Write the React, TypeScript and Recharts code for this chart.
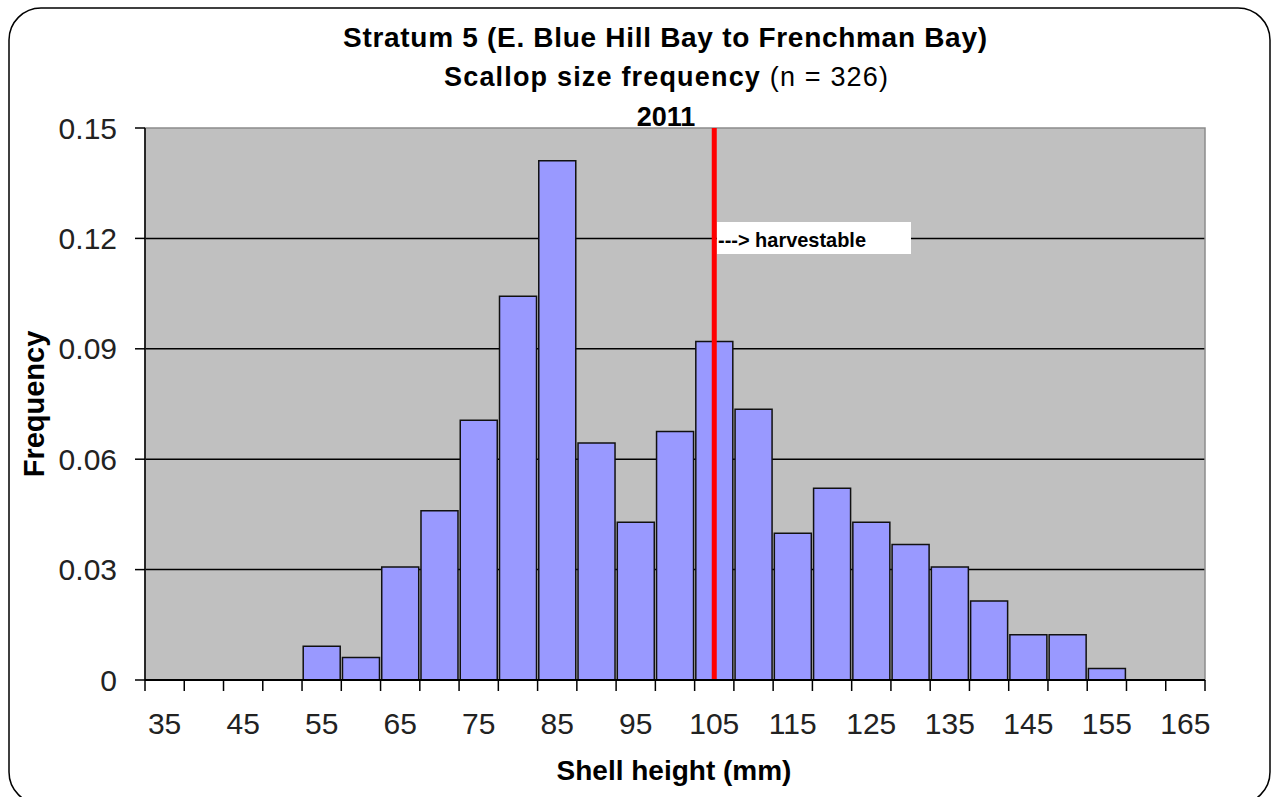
import React from "react";
import {
  BarChart,
  Bar,
  XAxis,
  YAxis,
  CartesianGrid,
  ReferenceLine,
  ReferenceArea,
} from "recharts";

// shell height classes (mm)
const sizes = [
  "35", "40", "45", "50", "55", "60", "65", "70", "75", "80", "85", "90", "95", "100",
  "105", "110", "115", "120", "125", "130", "135", "140", "145", "150", "155", "160", "165",
];

// relative frequency, n = 326
const frequency = [
  0, 0, 0, 0, 0.0092, 0.0061, 0.0307, 0.046, 0.0706, 0.1043, 0.1411, 0.0644, 0.0429, 0.0675,
  0.092, 0.0736, 0.0399, 0.0521, 0.0429, 0.0368, 0.0307, 0.0215, 0.0123, 0.0123, 0.0031, 0, 0,
];

const yTicks = [0, 0.03, 0.06, 0.09, 0.12, 0.15];
const gridValues = [0.03, 0.06, 0.09, 0.12];
const legalSize = "105";

const data = sizes.map((s, i) => ({ size: s, freq: frequency[i] }));

const W = 1275;
const H = 797;
const FONT = "'Liberation Sans', Arial, sans-serif";

// category axis: labels every other class, tick marks on the class edges
const SizeTick = (props: any) => {
  const { x, y, index, payload } = props;
  const half = payload && payload.offset ? payload.offset : 19.63;
  return (
    <g>
      <line x1={x - half} x2={x - half} y1={y} y2={y + 11} stroke="#000" strokeWidth={1.5} />
      {index === sizes.length - 1 && (
        <line x1={x + half} x2={x + half} y1={y} y2={y + 11} stroke="#000" strokeWidth={1.5} />
      )}
      {index % 2 === 0 && (
        <text x={x} y={y + 54} textAnchor="middle" fontSize={30} fill="#222" fontFamily={FONT}>
          {payload.value}
        </text>
      )}
    </g>
  );
};

export default function App() {
  return (
    <div
      style={{ position: "absolute", left: 0, top: 0, width: W, height: H, fontFamily: FONT, background: "#fff" }}
    >
      <BarChart
        width={W}
        height={H}
        data={data}
        barCategoryGap="3%"
        margin={{ top: 128, right: 70, bottom: 0, left: 0 }}
      >
        <CartesianGrid
          vertical={false}
          horizontalValues={gridValues}
          fill="#C0C0C0"
          fillOpacity={1}
          stroke="#000"
          strokeWidth={1.5}
        />
        <ReferenceArea y1={0} y2={0.15} fill="none" fillOpacity={0} stroke="#8c8c8c" strokeWidth={1.5} />
        <XAxis
          dataKey="size"
          interval={0}
          height={117}
          tickSize={0}
          tickMargin={0}
          tickLine={false}
          axisLine={{ stroke: "#000", strokeWidth: 2 }}
          tick={<SizeTick />}
        />
        <YAxis
          width={145}
          domain={[0, 0.15]}
          ticks={yTicks}
          interval={0}
          tickSize={10}
          tickMargin={18}
          tickFormatter={(v: number) => (v === 0 ? "0" : v.toFixed(2))}
          tick={{ fontSize: 30, fill: "#222", fontFamily: FONT }}
          axisLine={{ stroke: "#000", strokeWidth: 1.5 }}
          tickLine={{ stroke: "#000", strokeWidth: 1.5 }}
        />
        <Bar dataKey="freq" fill="#9999FF" stroke="#111" strokeWidth={1.5} isAnimationActive={false} />
        <ReferenceLine x={legalSize} stroke="#FF0000" strokeWidth={5} />
      </BarChart>

      <svg
        width={W}
        height={H}
        style={{ position: "absolute", left: 0, top: 0, pointerEvents: "none" }}
        fontFamily={FONT}
      >
        <rect x={9} y={8} width={1261} height={796} rx={32} ry={32} fill="none" stroke="#000" strokeWidth={1.5} />
        <text x={665} y={47} textAnchor="middle" fontSize={28} fontWeight="bold" textLength={644} lengthAdjust="spacing">
          Stratum 5 (E. Blue Hill Bay to Frenchman Bay)
        </text>
        <text x={666} y={86} textAnchor="middle" fontSize={27} textLength={444} lengthAdjust="spacing">
          <tspan fontWeight="bold">Scallop size frequency</tspan>
          <tspan> (n = 326)</tspan>
        </text>
        <text x={666} y={126} textAnchor="middle" fontSize={27} fontWeight="bold">
          2011
        </text>
        <text transform="translate(44,404) rotate(-90)" textAnchor="middle" fontSize={29} fontWeight="bold">
          Frequency
        </text>
        <text x={674} y={780} textAnchor="middle" fontSize={28} fontWeight="bold">
          Shell height (mm)
        </text>
        <rect x={717} y={222} width={194} height={32} fill="#fff" />
        <text x={718} y={247} fontSize={21} fontWeight="bold" textLength={148} lengthAdjust="spacingAndGlyphs">
          ---&gt; harvestable
        </text>
      </svg>
    </div>
  );
}
